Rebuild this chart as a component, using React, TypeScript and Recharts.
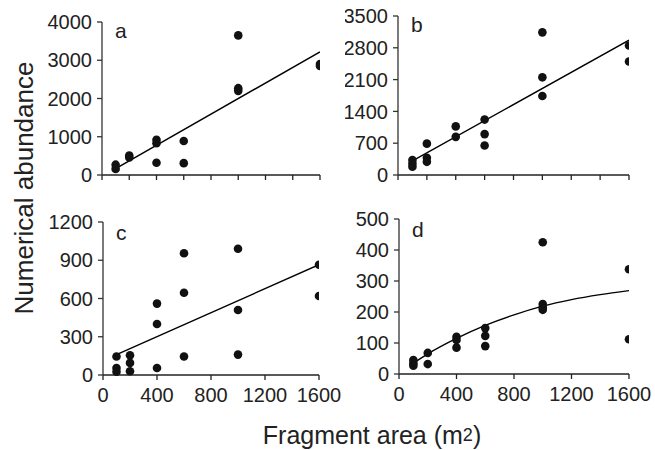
import { ComposedChart, Scatter, Line, XAxis, YAxis } from "recharts";

const areaTicksTop = [0, 200, 400, 600, 800, 1000, 1200, 1400, 1600];
const areaTicksBottom = [0, 400, 800, 1200, 1600];

const aX = [100, 100, 200, 200, 400, 400, 400, 600, 600, 1000, 1000, 1000, 1600, 1600];
const aY = [270, 160, 510, 460, 920, 830, 320, 890, 310, 3650, 2270, 2200, 2900, 2850];
const aTicks = [0, 1000, 2000, 3000, 4000];
const aFitX = [100, 1600];
const aFitY = [165, 3220];

const bX = [100, 100, 100, 200, 200, 200, 400, 400, 600, 600, 600, 1000, 1000, 1000, 1600, 1600];
const bY = [330, 250, 180, 690, 380, 290, 1070, 840, 1220, 900, 650, 3140, 2150, 1740, 2850, 2500];
const bTicks = [0, 700, 1400, 2100, 2800, 3500];
const bFitX = [100, 1600];
const bFitY = [310, 2970];

const cX = [100, 100, 100, 200, 200, 200, 400, 400, 400, 600, 600, 600, 1000, 1000, 1000, 1600, 1600];
const cY = [145, 55, 25, 155, 95, 30, 560, 400, 55, 955, 645, 145, 990, 510, 160, 865, 620];
const cTicks = [0, 300, 600, 900, 1200];
const cFitX = [100, 1600];
const cFitY = [160, 865];

const dX = [100, 100, 100, 200, 200, 400, 400, 400, 600, 600, 600, 1000, 1000, 1000, 1000, 1600, 1600];
const dY = [45, 35, 27, 68, 32, 120, 110, 85, 148, 123, 90, 425, 226, 215, 207, 338, 112];
const dTicks = [0, 100, 200, 300, 400, 500];
const dFitX = [100, 200, 400, 600, 800, 1000, 1200, 1400, 1600];
const dFitY = [35, 65, 115, 157, 191, 219, 240, 256, 269];

const FONT = "'Liberation Sans', Arial, sans-serif";

const zip = (xs: number[], ys: number[]) => xs.map((x, i) => ({ x, y: ys[i] }));

const Dot = (p: any) => <circle cx={p.cx} cy={p.cy} r={4.3} fill="#111" />;

type PanelProps = {
  letter: string;
  box: [number, number, number, number]; // left, top, width, height
  plot: [number, number, number, number]; // left, top, right, bottom (page coords)
  xs: number[];
  ys: number[];
  yTicks: number[];
  fitX: number[];
  fitY: number[];
  curve?: boolean;
  bottom?: boolean;
};

function Panel({ letter, box, plot, xs, ys, yTicks, fitX, fitY, curve, bottom }: PanelProps) {
  const [left, top, width, height] = box;
  const [pl, pt, pr, pb] = plot;
  const axisStyle = { fontSize: 20, fontFamily: FONT, fill: "#222" };
  return (
    <div style={{ position: "absolute", left, top, width, height }}>
      <ComposedChart
        width={width}
        height={height}
        margin={{ top: pt - top, right: left + width - pr, bottom: 0, left: 0 }}
      >
        <XAxis
          type="number"
          dataKey="x"
          domain={[0, 1600]}
          ticks={bottom ? areaTicksBottom : areaTicksTop}
          tickFormatter={bottom ? undefined : () => ""}
          height={top + height - pb}
          tickSize={5}
          tickMargin={8}
          stroke="#222"
          strokeWidth={1.3}
          tick={axisStyle}
          interval={0}
          allowDataOverflow
        />
        <YAxis
          type="number"
          dataKey="y"
          domain={[0, yTicks[yTicks.length - 1]]}
          ticks={yTicks}
          width={pl - left}
          tickSize={5}
          tickMargin={5}
          stroke="#333"
          strokeWidth={1.3}
          tick={axisStyle}
          interval={0}
        />
        <Line
          data={zip(fitX, fitY)}
          dataKey="y"
          type={curve ? "monotone" : "linear"}
          stroke="#000"
          strokeWidth={1.4}
          dot={false}
          isAnimationActive={false}
        />
        <Scatter data={zip(xs, ys)} dataKey="y" shape={Dot} isAnimationActive={false} />
      </ComposedChart>
      <svg
        width={width}
        height={height}
        style={{ position: "absolute", left: 0, top: 0, pointerEvents: "none" }}
      >
        <text x={pl - left + 13} y={pt - top + (bottom ? 18 : 16)} fontSize={21} fontFamily={FONT} fill="#222">
          {letter}
        </text>
      </svg>
    </div>
  );
}

export default function App() {
  return (
    <div style={{ position: "absolute", left: 0, top: 0, width: 655, height: 450, background: "#fff" }}>
      <Panel letter="a" box={[0, 0, 345, 200]} plot={[102, 22, 320, 175]} xs={aX} ys={aY} yTicks={aTicks} fitX={aFitX} fitY={aFitY} />
      <Panel letter="b" box={[345, 0, 310, 200]} plot={[398, 16, 629, 175]} xs={bX} ys={bY} yTicks={bTicks} fitX={bFitX} fitY={bFitY} />
      <Panel letter="c" box={[0, 200, 345, 210]} plot={[103, 222, 319, 375]} xs={cX} ys={cY} yTicks={cTicks} fitX={cFitX} fitY={cFitY} bottom />
      <Panel letter="d" box={[345, 200, 310, 210]} plot={[399, 219, 629, 374]} xs={dX} ys={dY} yTicks={dTicks} fitX={dFitX} fitY={dFitY} curve bottom />
      <div
        style={{
          position: "absolute",
          left: 172,
          top: 423,
          width: 400,
          textAlign: "center",
          fontFamily: FONT,
          fontSize: 25,
          lineHeight: "25px",
          color: "#222",
          whiteSpace: "nowrap",
        }}
      >
        <span>Fragment area (m</span>
        <span style={{ fontSize: 18, verticalAlign: "3px" }}>2</span>
        <span style={{ fontSize: 25, color: "#222" }}>)</span>
      </div>
      <svg width={655} height={450} style={{ position: "absolute", left: 0, top: 0, pointerEvents: "none" }}>
        <text
          transform="translate(33,188) rotate(-90)"
          textAnchor="middle"
          fontSize={26}
          fontFamily={FONT}
          fill="#222"
        >
          Numerical abundance
        </text>
      </svg>
    </div>
  );
}
